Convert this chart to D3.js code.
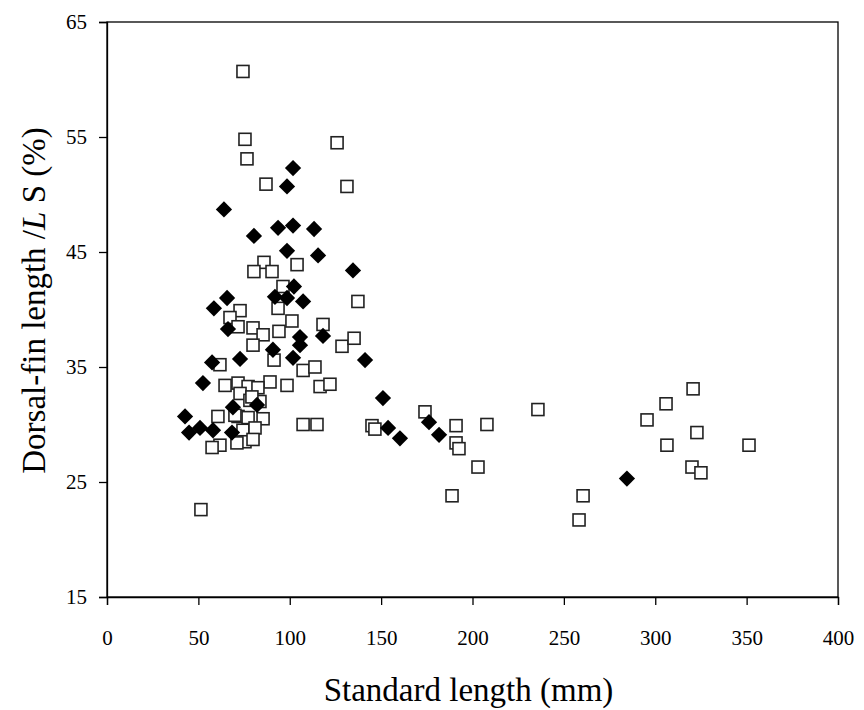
<!DOCTYPE html>
<html><head><meta charset="utf-8">
<script src="https://cdn.jsdelivr.net/npm/d3@7"></script>
<style>body{margin:0;background:#fff}svg{display:block}</style>
</head><body>
<svg id="c" width="864" height="710"></svg>
<script>
// Filled diamonds: [standard length (mm), dorsal-fin length / LS (%)]
const filledX = [42.7,44.9,50.9,58.0,68.4,68.9,52.5,57.5,72.8,58.5,65.7,66.2,64.0,80.4,93.6,101.8,98.5,101.8,98.5,113.3,115.5,102.3,91.9,98.5,107.3,105.6,118.2,90.8,105.6,101.8,134.6,141.2,151.0,153.8,160.3,176.2,181.7,284.5,82.1];
const filledY = [30.7,29.3,29.7,29.5,29.3,31.5,33.6,35.4,35.7,40.1,41.0,38.3,48.7,46.4,47.1,47.3,50.7,52.3,45.1,47.0,44.7,42.0,41.1,41.0,40.7,37.6,37.7,36.5,36.9,35.8,43.4,35.6,32.3,29.7,28.8,30.2,29.1,25.3,31.7];
// Open squares
const openX = [74.4,75.5,76.6,125.9,131.3,87.0,85.9,80.4,90.3,104.0,96.3,137.3,72.8,67.3,71.7,79.9,85.4,79.9,93.6,94.1,101.2,118.2,128.6,135.2,91.4,61.8,107.3,113.8,98.5,116.6,122.0,89.2,64.6,71.7,77.2,82.6,72.8,78.2,83.7,60.7,71.7,77.2,85.4,107.3,114.9,74.4,75.5,61.8,57.5,71.1,79.3,70.0,81.0,79.9,51.4,145.0,146.6,174.0,191.0,191.0,192.6,188.8,207.9,203.0,235.8,260.5,258.3,295.5,305.9,320.7,322.8,306.4,351.3,320.1,325.0];
const openY = [60.7,54.8,53.1,54.5,50.7,50.9,44.1,43.3,43.3,43.9,42.0,40.7,39.9,39.3,38.5,38.4,37.8,36.9,40.1,38.1,39.0,38.7,36.8,37.5,35.6,35.2,34.7,35.0,33.4,33.3,33.5,33.7,33.4,33.6,33.3,33.2,32.7,32.1,32.0,30.7,30.7,30.6,30.5,30.0,30.0,29.5,28.5,28.2,28.0,28.4,32.4,30.8,29.7,28.7,22.6,29.9,29.6,31.1,29.9,28.4,27.9,23.8,30.0,26.3,31.3,23.8,21.7,30.4,31.8,33.1,29.3,28.2,28.2,26.3,25.8];
const xTicks = [0,50,100,150,200,250,300,350,400];
const yTicks = [15,25,35,45,55,65];

const svg = d3.select("#c");
const L = 107, R = 838, T = 22, B = 597;
const x = d3.scaleLinear().domain([0,400]).range([L,R]);
const y = d3.scaleLinear().domain([15,65]).range([B,T]);
const font = "'Liberation Serif','Times New Roman',serif";

// frame
svg.append("rect").attr("x",L).attr("y",T).attr("width",R-L).attr("height",B-T)
  .attr("fill","none").attr("stroke","#000").attr("stroke-width",1.3);

const xa = svg.append("g").attr("transform",`translate(0,${B})`)
  .call(d3.axisBottom(x).tickValues(xTicks).tickSize(8).tickPadding(25).tickFormat(d3.format("d")));
const ya = svg.append("g").attr("transform",`translate(${L},0)`)
  .call(d3.axisLeft(y).tickValues(yTicks).tickSize(8).tickPadding(12).tickFormat(d3.format("d")));
[xa,ya].forEach(a=>{
  a.attr("font-family",font);
  a.select(".domain").attr("stroke","#000").attr("stroke-width",1.3);
  a.selectAll(".tick line").attr("stroke","#000").attr("stroke-width",1.3);
  a.selectAll(".tick text").attr("font-family",font).attr("font-size",21).attr("fill","#000");
});

// open squares
const s = 12;
svg.append("g").selectAll("rect").data(openX.map((d,i)=>[d,openY[i]])).join("rect")
  .attr("x",d=>x(d[0])-s/2).attr("y",d=>y(d[1])-s/2).attr("width",s).attr("height",s)
  .attr("fill","#fff").attr("stroke","#222").attr("stroke-width",1.6);

// filled diamonds
const dsz = 11.5;
svg.append("g").selectAll("rect").data(filledX.map((d,i)=>[d,filledY[i]])).join("rect")
  .attr("x",-dsz/2).attr("y",-dsz/2).attr("width",dsz).attr("height",dsz)
  .attr("transform",d=>`translate(${x(d[0])},${y(d[1])}) rotate(45)`)
  .attr("fill","#000");

// titles
svg.append("text").attr("x",(L+R)/2 - 4).attr("y",701).attr("text-anchor","middle")
  .attr("font-family",font).attr("font-size",33).text("Standard length (mm)");
const yt = svg.append("text").attr("transform",`translate(45,${(T+B)/2 - 9}) rotate(-90)`)
  .attr("text-anchor","middle").attr("font-family",font).attr("font-size",33);
yt.append("tspan").text("Dorsal-fin length /");
yt.append("tspan").attr("font-style","italic").text("L");
yt.append("tspan").text(" S (%)");
</script>
</body></html>
